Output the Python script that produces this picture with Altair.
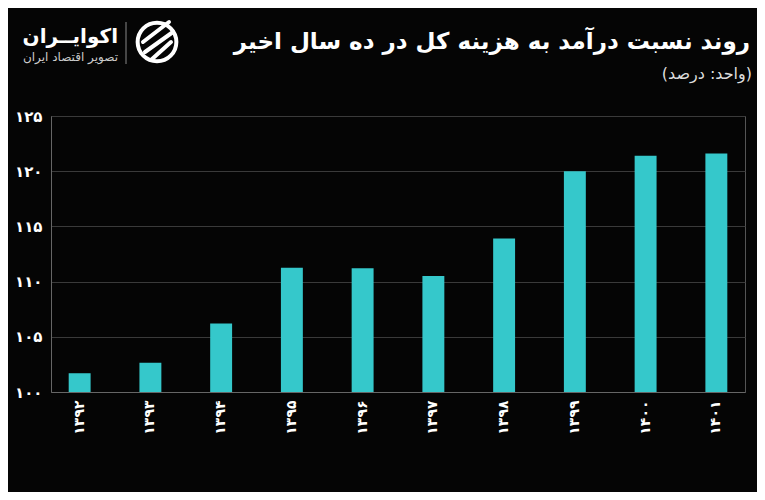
import altair as alt
import pandas as pd

years = ['۱۳۹۲', '۱۳۹۳', '۱۳۹۴', '۱۳۹۵', '۱۳۹۶', '۱۳۹۷', '۱۳۹۸', '۱۳۹۹', '۱۴۰۰', '۱۴۰۱']
ratios = [101.7, 102.65, 106.2, 111.25, 111.2, 110.5, 113.9, 120.0, 121.4, 121.6]
y_ticks = [100, 105, 110, 115, 120, 125]
y_tick_labels = ['۱۰۰', '۱۰۵', '۱۱۰', '۱۱۵', '۱۲۰', '۱۲۵']
title_text = ['روند نسبت درآمد به هزینه کل در ده سال اخیر']
subtitle_text = ['\u202b(واحد: درصد)\u202c']
brand = ['اکوایــران']
brand_sub = ['تصویر اقتصاد ایران']

FONT = 'DejaVu Sans'
BG = '#050505'
BAR = '#35C8CB'

df = pd.DataFrame({'year': years, 'ratio': ratios})
label_map = '{' + ','.join(f"'{t}':'{l}'" for t, l in zip(y_ticks, y_tick_labels)) + '}'
label_expr = f'{label_map}[datum.label]'

bars = alt.Chart(df).mark_bar(color=BAR).encode(
    x=alt.X('year:N', sort=years,
            scale=alt.Scale(paddingInner=0.69, paddingOuter=0.25),
            axis=alt.Axis(title=None, labelAngle=270, labelFont=FONT, labelFontSize=14,
                          labelFontWeight='bold', labelColor='white', labelPadding=8,
                          ticks=False, domainColor='#666', grid=False)),
    y=alt.Y('ratio:Q',
            scale=alt.Scale(domain=[100, 125], nice=False, zero=False),
            axis=alt.Axis(title=None, values=y_ticks, labelExpr=label_expr, ticks=False,
                          gridColor='#3a3a3a', domainColor='#666', labelColor='white',
                          labelFont=FONT, labelFontSize=15, labelFontWeight='bold',
                          labelPadding=9)),
    y2=alt.datum(100),
)


def text_layer(values, x, y, size, weight='normal', color='white', align='right'):
    return alt.Chart(pd.DataFrame({'t': values})).mark_text(
        font=FONT, fontSize=size, fontWeight=weight, color=color, align=align,
        baseline='middle'
    ).encode(text='t:N', x=alt.value(x), y=alt.value(y))


title_txt = text_layer(title_text, 699, -74, 23, 'bold')
subtitle_txt = text_layer(subtitle_text, 701, -42, 16, 'normal', '#dddddd')
brand_txt = text_layer(brand, 67, -79, 20, 'bold')
brand_sub_txt = text_layer(brand_sub, 67, -59, 12, 'normal', '#cccccc')

sep = alt.Chart(pd.DataFrame({'a': [0]})).mark_rule(color='#888', strokeWidth=1).encode(
    x=alt.value(75), y=alt.value(-94), y2=alt.value(-52))

icon_ring = alt.Chart(pd.DataFrame({'a': [0]})).mark_point(
    shape='circle', size=1500, filled=False, color='white', strokeWidth=4, opacity=1
).encode(x=alt.value(106), y=alt.value(-74))

stripes = alt.Chart(pd.DataFrame({
    'x1': [92, 94, 100], 'y1': [-74, -64, -56], 'x2': [118, 122, 120], 'y2': [-94, -84, -74]
})).mark_rule(color='white', strokeWidth=4, strokeCap='round').encode(
    x=alt.X('x1:Q', scale=None), x2='x2:Q', y=alt.Y('y1:Q', scale=None), y2='y2:Q')

chart = alt.layer(bars, title_txt, subtitle_txt, brand_txt, brand_sub_txt, sep,
                  icon_ring, stripes).properties(
    width=694, height=276,
    padding={'left': 43, 'top': 108, 'right': 12, 'bottom': 100},
    autosize=alt.AutoSizeParams(type='none'),
    background=BG,
).configure_view(stroke='#555')

chart.save('out.html', embed_options={'renderer': 'svg', 'actions': False})
